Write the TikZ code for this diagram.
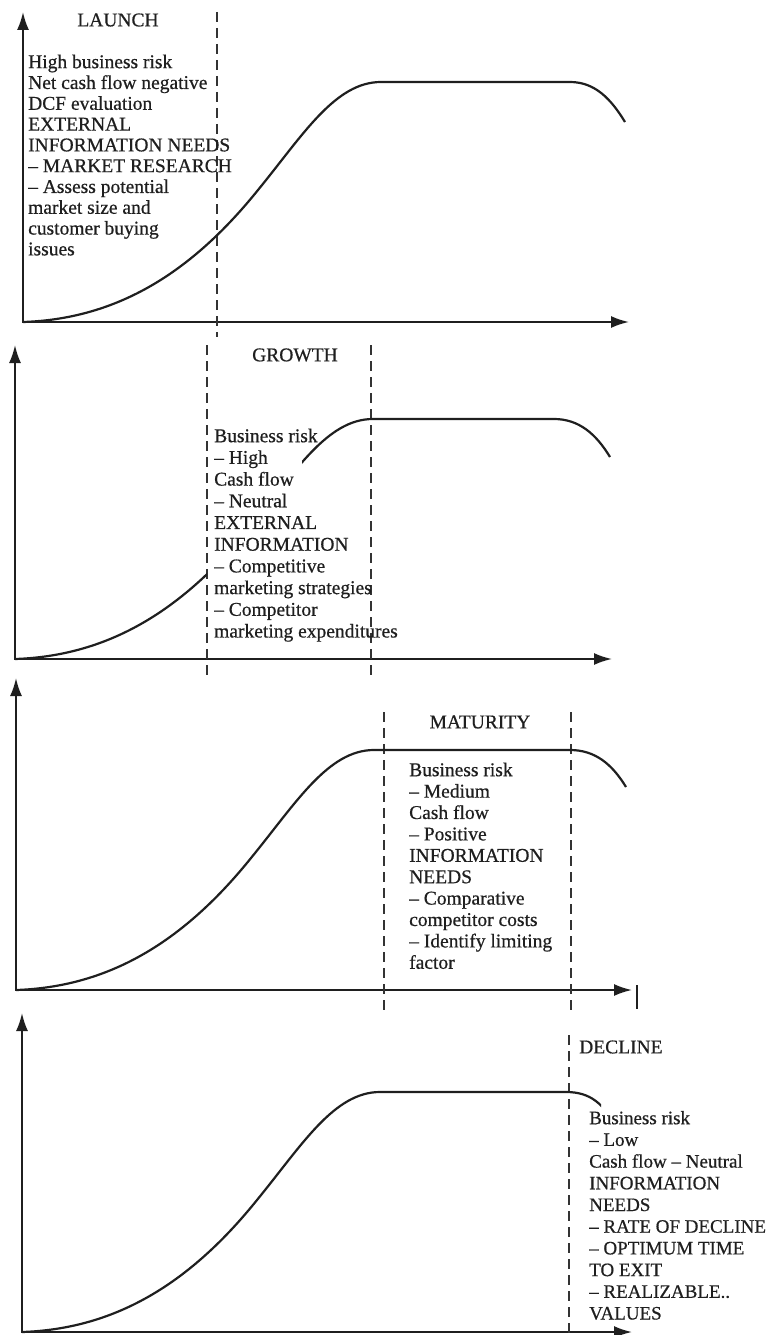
\documentclass[tikz,border=0pt]{standalone}
\usepackage{fontspec}
\setmainfont{Liberation Serif}[FakeBold=0.6]
\usetikzlibrary{arrows.meta}

% S-shaped life-cycle curve, drawn from the origin of a panel:
% #1 = x where the plateau ends, (#2,#3) = end of the falling tail
\newcommand\lifepath[3]{(0,0) .. controls (90,-3) and (165,-45) .. (235,-132)
  .. controls (280,-187) and (312,-240) .. (358,-240) -- (#1,-240)
  .. controls (#1+25,-240) and (#2-14,#3-23) .. (#2,#3)}

\tikzset{
  axes/.style={draw=black!88, line width=2pt,
    {Latex[length=18pt,width=12pt]}-{Latex[length=18pt,width=12pt]}},
  lifecurve/.style={draw=black!88, line width=2.2pt},
  phase/.style={draw=black!80, line width=1.1pt, dash pattern=on 10pt off 6pt},
  stagetitle/.style={font=\fontsize{19.5}{21.5}\selectfont, text=black!88, inner sep=0pt},
  notes/.style={text=black!88, align=left, inner sep=0pt, anchor=north west},
}

\begin{document}
\begin{tikzpicture}[x=1pt,y=-1pt]
\useasboundingbox (0,0) rectangle (773,1335);

% ---------- Launch ----------
\draw[axes] (23,12) -- (23,322) -- (629,322);
\draw[phase] (217,12) -- (217,337);
\begin{scope}[shift={(23,322)}]
  \draw[lifecurve] \lifepath{547}{602}{-200};
\end{scope}
\node[stagetitle] (launch) at (118,20) {LAUNCH};
\node[notes, font=\fontsize{19.5}{20.8}\selectfont] (launchnotes) at (28,53.4)
  {\strut High business risk\\Net cash flow negative\\DCF evaluation\\EXTERNAL\\
   INFORMATION NEEDS\\– MARKET RESEARCH\\– Assess potential\\market size and\\
   customer buying\\issues};

% ---------- Growth ----------
\draw[axes] (15,345) -- (15,659) -- (612,659);
\draw[phase] (207,345) -- (207,675);
\draw[phase] (371,345) -- (371,675);
\begin{scope}[shift={(15,659)}]
  \begin{scope}
    \clip (-5,-260) rectangle (192,5);
    \draw[lifecurve] \lifepath{539}{595}{-202};
  \end{scope}
  \begin{scope}
    \clip (287,-260) rectangle (620,5);
    \draw[lifecurve] \lifepath{539}{595}{-202};
  \end{scope}
\end{scope}
\node[stagetitle] (growth) at (295,355) {GROWTH};
\node[notes, font=\fontsize{19.5}{21.7}\selectfont] (growthnotes) at (214,426.8)
  {\strut Business risk\\– High\\Cash flow\\– Neutral\\EXTERNAL\\INFORMATION\\
   – Competitive\\marketing strategies\\– Competitor\\marketing expenditures};

% ---------- Maturity ----------
\draw[axes] (16,678) -- (16,990) -- (632,990);
\draw[draw=black!88, line width=1.5pt] (637,985) -- (637,1009);
\draw[phase] (384,712) -- (384,1010);
\draw[phase] (571,712) -- (571,1010);
\begin{scope}[shift={(16,990)}]
  \draw[lifecurve] \lifepath{554}{610}{-203};
\end{scope}
\node[stagetitle] (maturity) at (480,722) {MATURITY};
\node[notes, font=\fontsize{19.5}{21.4}\selectfont] (maturitynotes) at (409,761)
  {\strut Business risk\\– Medium\\Cash flow\\– Positive\\INFORMATION\\NEEDS\\
   – Comparative\\competitor costs\\– Identify limiting\\factor};

% ---------- Decline ----------
\draw[axes] (22,1013) -- (22,1332) -- (632,1332);
\draw[phase] (569,1035) -- (569,1340);
\begin{scope}[shift={(22,1332)}]
  \begin{scope}
    \clip (-5,-260) rectangle (579,5);
    \draw[lifecurve] \lifepath{544}{595}{-205};
  \end{scope}
\end{scope}
\node[stagetitle, anchor=west] (decline) at (579,1047) {DECLINE};
\node[notes, font=\fontsize{19}{21.7}\selectfont] (declinenotes) at (589,1108.8)
  {\strut Business risk\\– Low\\Cash flow – Neutral\\INFORMATION\\NEEDS\\
   – RATE OF DECLINE\\– OPTIMUM TIME\\TO EXIT\\– REALIZABLE..\\VALUES};
\end{tikzpicture}
\end{document}
